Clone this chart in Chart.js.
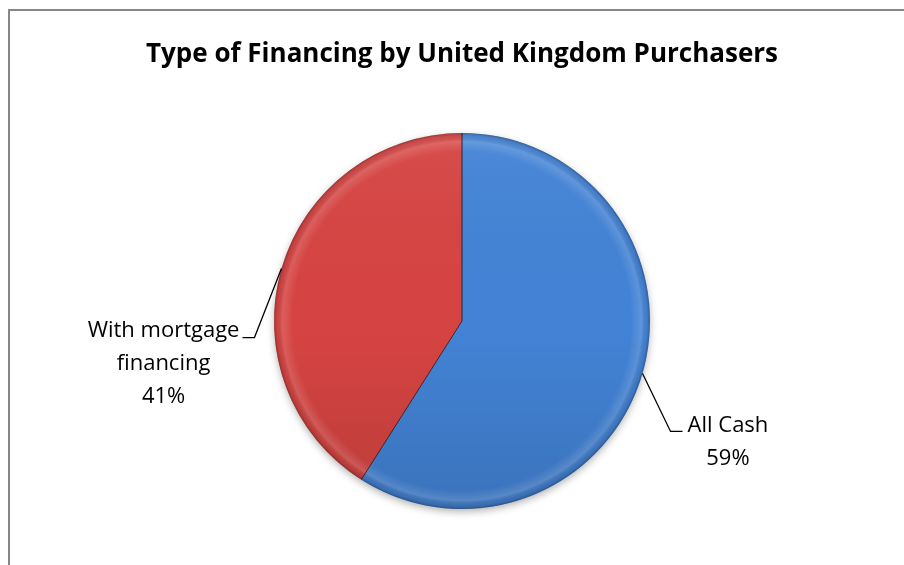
<!DOCTYPE html>
<html>
<head>
<meta charset="utf-8">
<script src="https://cdn.jsdelivr.net/npm/chart.js@4/dist/chart.umd.min.js"></script>
<style>
  html, body { margin: 0; padding: 0; background: #fff; }
  #wrap { position: relative; width: 904px; height: 565px; overflow: hidden; }
  #frame { position: absolute; left: 8px; top: 9px; width: 1000px; height: 1000px; border: 2px solid #878787; box-sizing: border-box; }
  canvas { position: absolute; left: 0; top: 0; }
</style>
</head>
<body>
<div id="wrap">
  <div id="frame"></div>
  <canvas id="c" width="904" height="565"></canvas>
</div>
<script>
const title = "Type of Financing by United Kingdom Purchasers";
const categories = ["All Cash", "With mortgage financing"];
const labelLines = [["All Cash", "59%"], ["With mortgage", "financing", "41%"]];
const values = [59, 41];
const baseColors = ["#4383D6", "#D64442"];

const FONT = '"Open Sans", "Liberation Sans", sans-serif';

const bevelPlugin = {
  id: 'bevel',
  beforeDatasetsDraw(chart) {
    const arc = chart.getDatasetMeta(0).data[0];
    if (!arc) return;
    const c = chart.ctx;
    c.save();
    c.shadowColor = 'rgba(0,0,0,0.35)';
    c.shadowBlur = 8;
    c.shadowOffsetY = 3;
    c.fillStyle = '#fff';
    c.beginPath();
    c.arc(arc.x, arc.y, arc.outerRadius - 1, 0, Math.PI * 2);
    c.fill();
    c.restore();
  },
  afterDatasetsDraw(chart) {
    const meta = chart.getDatasetMeta(0);
    const arc0 = meta.data[0];
    if (!arc0) return;
    const c = chart.ctx;
    const x = arc0.x, y = arc0.y, r = arc0.outerRadius;
    c.save();
    c.beginPath();
    c.arc(x, y, r, 0, Math.PI * 2);
    c.clip();
    // vertical lighting
    const lg = c.createLinearGradient(0, y - r, 0, y + r);
    lg.addColorStop(0, 'rgba(255,255,255,0.06)');
    lg.addColorStop(0.5, 'rgba(0,0,0,0)');
    lg.addColorStop(1, 'rgba(0,0,0,0.12)');
    c.fillStyle = lg;
    c.fillRect(x - r, y - r, 2 * r, 2 * r);
    // ring bevel
    const rg = c.createRadialGradient(x, y, 0, x, y, r);
    rg.addColorStop(0, 'rgba(255,255,255,0)');
    rg.addColorStop(0.9, 'rgba(255,255,255,0)');
    rg.addColorStop(0.955, 'rgba(255,255,255,0.14)');
    rg.addColorStop(0.985, 'rgba(0,0,0,0.05)');
    rg.addColorStop(1, 'rgba(0,0,0,0.28)');
    c.fillStyle = rg;
    c.fillRect(x - r, y - r, 2 * r, 2 * r);
    // divider lines between slices
    c.strokeStyle = 'rgba(40,20,20,0.85)';
    c.lineWidth = 1;
    meta.data.forEach(a => {
      c.beginPath();
      c.moveTo(x, y);
      c.lineTo(x + Math.cos(a.startAngle) * r, y + Math.sin(a.startAngle) * r);
      c.stroke();
    });
    c.restore();
  }
};

const labelPlugin = {
  id: 'labels',
  afterDraw(chart) {
    const c = chart.ctx;
    c.save();
    c.fillStyle = '#000';
    c.font = 'bold 26px ' + FONT;
    c.textAlign = 'center';
    c.textBaseline = 'middle';
    c.fillText(title, 462, 55);
    c.restore();

    const meta = chart.getDatasetMeta(0);
    const elbows = [[28, 58, 12], [-27, 69, -12]];
    meta.data.forEach((arc, i) => {
      const mid = (arc.startAngle + arc.endAngle) / 2;
      const sx = arc.x + Math.cos(mid) * arc.outerRadius;
      const sy = arc.y + Math.sin(mid) * arc.outerRadius;
      const ex = sx + elbows[i][0], ey = sy + elbows[i][1];
      const hx = ex + elbows[i][2];
      c.save();
      c.strokeStyle = '#000';
      c.lineWidth = 1.3;
      c.beginPath();
      c.moveTo(sx, sy); c.lineTo(ex, ey); c.lineTo(hx, ey);
      c.stroke();
      c.fillStyle = '#000';
      c.font = '22px ' + FONT;
      c.textBaseline = 'middle';
      c.textAlign = 'center';
      const lines = labelLines[i];
      const w = c.measureText(lines[0]).width;
      let cx, cy;
      if (i === 0) { cx = hx + 5 + w / 2; cy = ey - 6; }
      else { cx = hx - 3 - w / 2; cy = ey - 7; }
      lines.forEach((t, k) => c.fillText(t, cx, cy + k * 33));
      c.restore();
    });
  }
};

new Chart(document.getElementById('c'), {
  type: 'pie',
  data: {
    labels: categories,
    datasets: [{
      data: values,
      backgroundColor: baseColors,
      borderWidth: 0
    }]
  },
  options: {
    responsive: false,
    animation: false,
    layout: { padding: { top: 133, bottom: 56, left: 274, right: 254 } },
    plugins: { legend: { display: false }, tooltip: { enabled: false }, title: { display: false } }
  },
  plugins: [bevelPlugin, labelPlugin]
});
</script>
</body>
</html>
